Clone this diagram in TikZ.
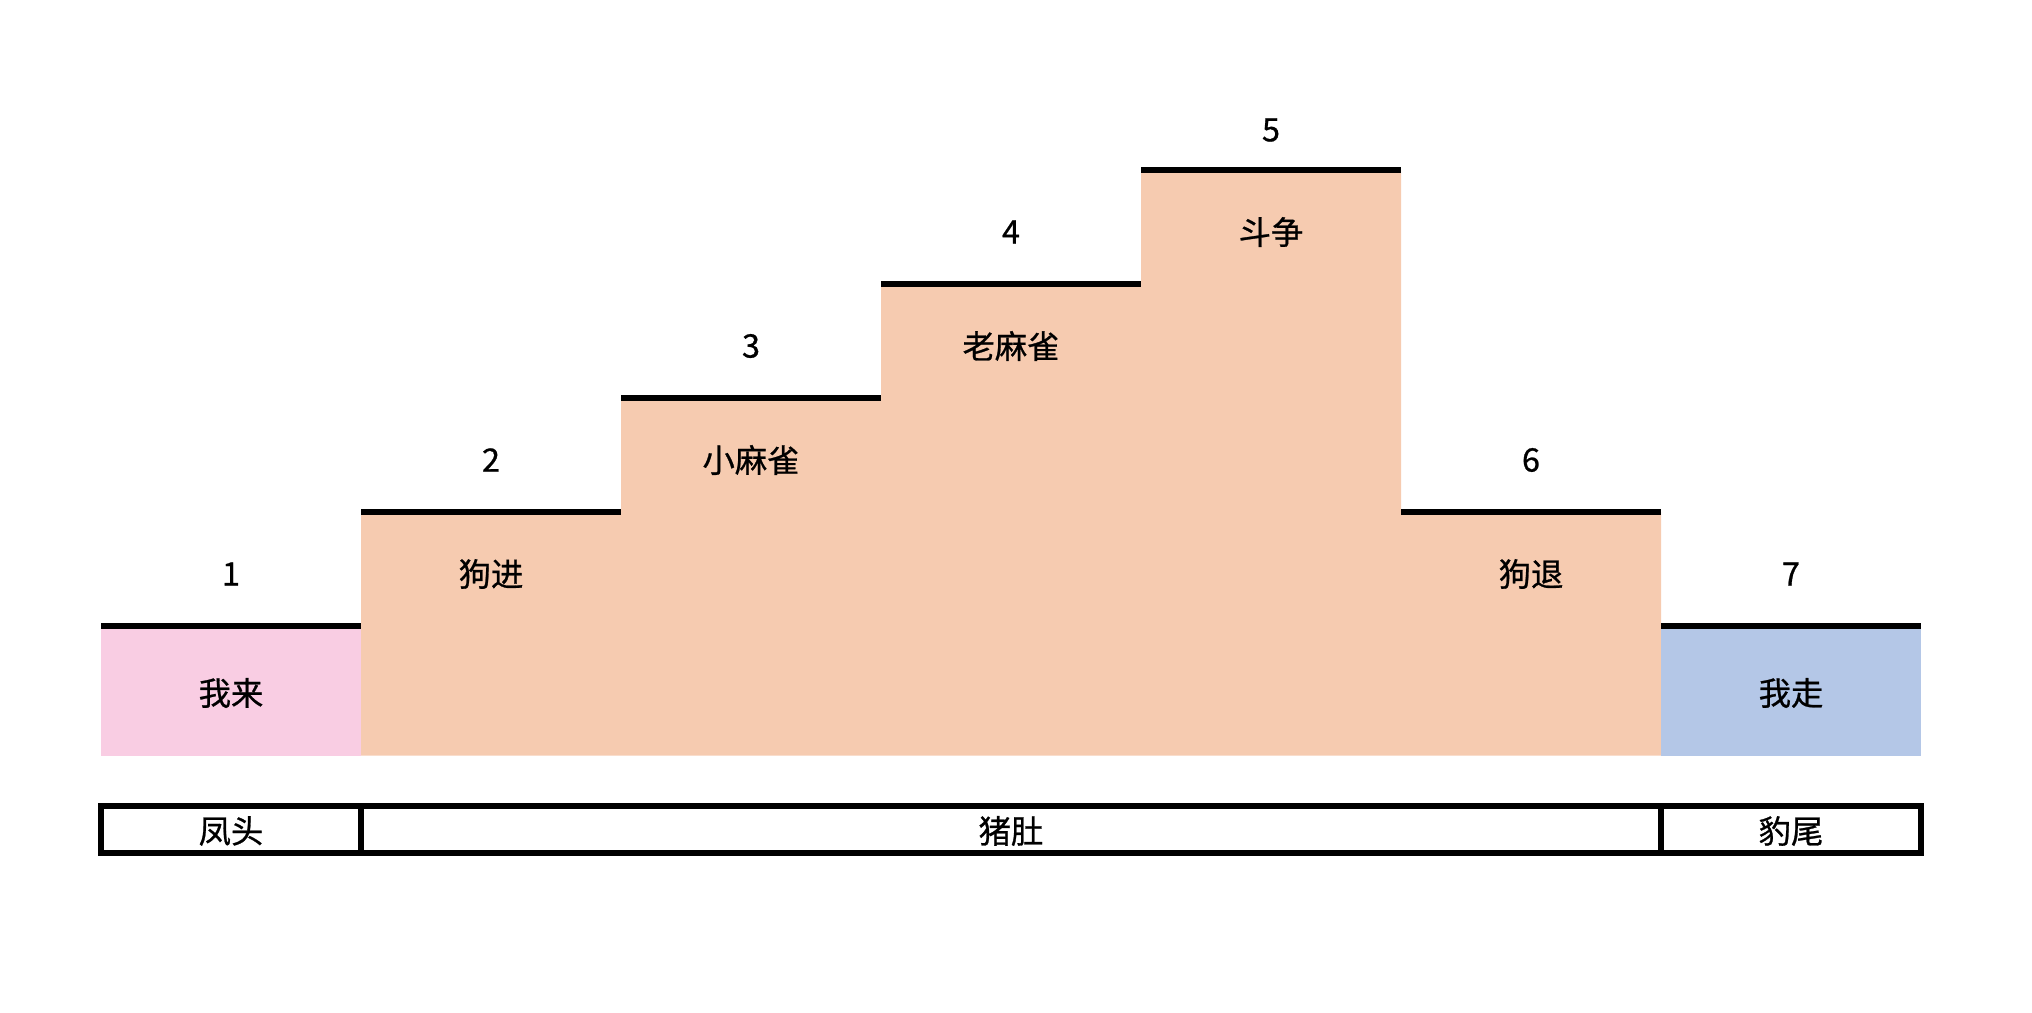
\documentclass[tikz,border=0pt]{standalone}
\usepackage{fontspec}
\setmainfont{Noto Sans CJK SC}[FakeBold=0.8]
\definecolor{headpink}{HTML}{F9CDE3}
\definecolor{bellyorange}{HTML}{F6CBB0}
\definecolor{tailblue}{HTML}{B4C7E7}
\begin{document}
\begin{tikzpicture}[font=\fontsize{9.2pt}{11pt}\selectfont,
  stepline/.style={line width=1.5pt},
  barline/.style={line width=1.5pt}]
\useasboundingbox (0,0) rectangle (20.32,10.12);
\fill[headpink] (1.01,2.565) rectangle (3.61,3.86);
\fill[bellyorange] (3.61,2.565) -- (3.61,5.00) -- (6.21,5.00) -- (6.21,6.14)
  -- (8.81,6.14) -- (8.81,7.28) -- (11.41,7.28) -- (11.41,8.42) -- (14.01,8.42)
  -- (14.01,5.00) -- (16.61,5.00) -- (16.61,2.565) -- cycle;
\fill[tailblue] (16.61,2.565) rectangle (19.21,3.86);
\draw[stepline] (1.01,3.86) -- (3.61,3.86);
\draw[stepline] (3.61,5.00) -- (6.21,5.00);
\draw[stepline] (6.21,6.14) -- (8.81,6.14);
\draw[stepline] (8.81,7.28) -- (11.41,7.28);
\draw[stepline] (11.41,8.42) -- (14.01,8.42);
\draw[stepline] (14.01,5.00) -- (16.61,5.00);
\draw[stepline] (16.61,3.86) -- (19.21,3.86);
\node (n1) at (2.31,4.38) {1};
\node (n2) at (4.91,5.52) {2};
\node (n3) at (7.51,6.66) {3};
\node (n4) at (10.11,7.80) {4};
\node (n5) at (12.71,8.82) {5};
\node (n6) at (15.31,5.52) {6};
\node (n7) at (17.91,4.38) {7};
\node (wolai) at (2.31,3.19) {我来};
\node (goujin) at (4.91,4.38) {狗进};
\node (xiaomaque) at (7.51,5.52) {小麻雀};
\node (laomaque) at (10.11,6.66) {老麻雀};
\node (douzheng) at (12.71,7.80) {斗争};
\node (goutui) at (15.31,4.38) {狗退};
\node (wozou) at (17.91,3.19) {我走};
\draw[barline] (1.01,1.59) rectangle (19.21,2.06);
\draw[barline] (3.61,1.59) -- (3.61,2.06);
\draw[barline] (16.61,1.59) -- (16.61,2.06);
\node (fengtou) at (2.31,1.81) {凤头};
\node (zhudu) at (10.11,1.81) {猪肚};
\node (baowei) at (17.91,1.81) {豹尾};
\end{tikzpicture}
\end{document}
